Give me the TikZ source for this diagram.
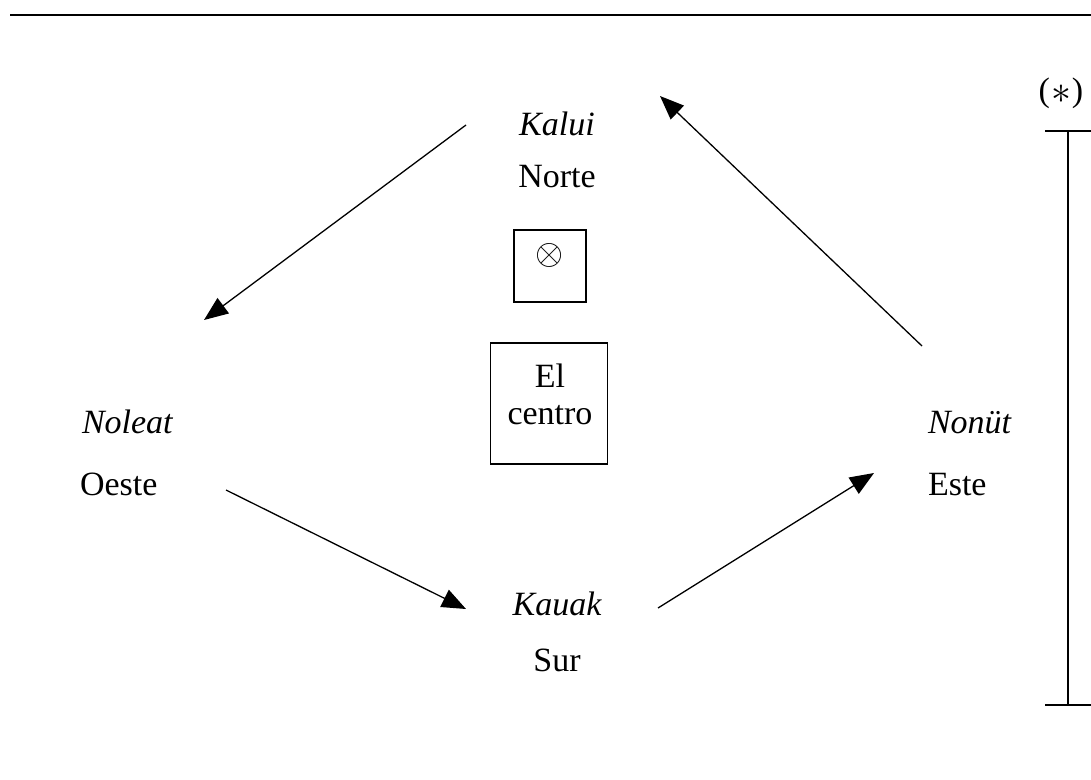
\documentclass[tikz,border=0pt]{standalone}
\usepackage{fontspec}
\setmainfont{Liberation Serif}
\usetikzlibrary{arrows.meta}
\begin{document}
\begin{tikzpicture}[x=1pt,y=-1pt,
  every node/.style={inner sep=0pt,outer sep=0pt},
  lbl/.style={font=\fontsize{34}{40}\selectfont},
  ilbl/.style={font=\fontsize{34}{40}\selectfont\itshape},
  conn/.style={line width=1.3pt,-{Triangle[length=24pt,width=19pt]}},
  boxst/.style={draw,line width=1.5pt,rectangle}]
\path[use as bounding box] (0,0) rectangle (1091,779);
% top rule
\coordinate (tl) at (10,15);
\coordinate (tr) at (1091,15);
\draw[line width=2pt] (tl) -- (tr);
% scale bar
\node[lbl] (star) at (1061,93) {(\kern1pt\raisebox{-2pt}{\scalebox{1.6}{$\ast$}}\kern1pt)};
\coordinate (bt) at (1068,131);
\coordinate (bb) at (1068,705);
\coordinate (btl) at (1045,131);
\coordinate (btr) at (1091,131);
\coordinate (bbl) at (1045,705);
\coordinate (bbr) at (1091,705);
\draw[line width=1.5pt] (bt) -- (bb);
\draw[line width=1.5pt] (btl) -- (btr);
\draw[line width=1.5pt] (bbl) -- (bbr);
% labels
\node[ilbl,anchor=base] (kalui) at (557,135) {Kalui};
\node[lbl,anchor=base] (norte) at (557,187) {Norte};
\node[ilbl,anchor=base west] (noleat) at (82,433) {Noleat};
\node[lbl,anchor=base west] (oeste) at (80,495) {Oeste};
\node[ilbl,anchor=base west] (nonut) at (928,433) {Nonüt};
\node[lbl,anchor=base west] (este) at (928,495) {Este};
\node[ilbl,anchor=base] (kauak) at (557,615) {Kauak};
\node[lbl,anchor=base] (sur) at (557,671) {Sur};
% boxes
\node[boxst,minimum width=72pt,minimum height=72pt] (box1) at (550,266) {};
\node[lbl] (otimes) at (550,255) {\scalebox{1.45}{$\otimes$}};
\node[boxst,minimum width=117pt,minimum height=121pt] (box2) at (549,403.5) {};
\node[lbl,align=center,anchor=north,font=\fontsize{34}{37}\selectfont] (centro) at (550,364) {El\\centro};
% arrows
\coordinate (a1s) at (466,125);
\coordinate (a1e) at (204,320);
\coordinate (a2s) at (922,346);
\coordinate (a2e) at (660,96);
\coordinate (a3s) at (226,490);
\coordinate (a3e) at (466,609);
\coordinate (a4s) at (658,608);
\coordinate (a4e) at (874,473);
\draw[conn] (a1s) -- (a1e);
\draw[conn] (a2s) -- (a2e);
\draw[conn] (a3s) -- (a3e);
\draw[conn] (a4s) -- (a4e);
\end{tikzpicture}
\end{document}
